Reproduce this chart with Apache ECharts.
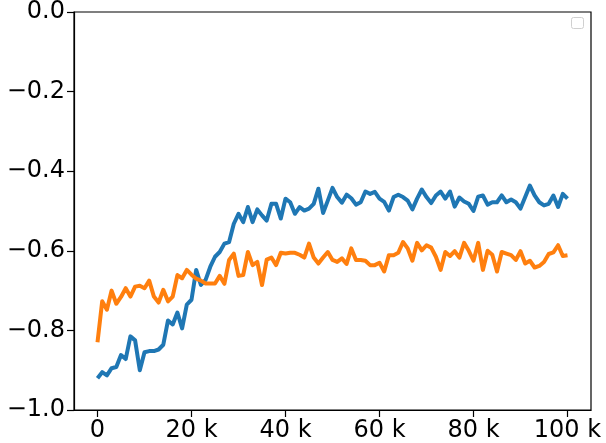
<!DOCTYPE html>
<html>
<head>
<meta charset="utf-8">
<script src="https://cdn.jsdelivr.net/npm/echarts@6/dist/echarts.min.js"></script>
<style>
  html, body { margin: 0; padding: 0; background: #fff; }
  #container { width: 606px; height: 443px; }
</style>
</head>
<body>
<div id="container"></div>
<script>
// 数据：每 1k 步一个点
var blueValues = [
  -0.920, -0.905, -0.913, -0.895, -0.892, -0.862, -0.872, -0.815, -0.825, -0.900,
  -0.855, -0.852, -0.852, -0.848, -0.836, -0.775, -0.785, -0.755, -0.795, -0.735,
  -0.723, -0.648, -0.686, -0.673, -0.640, -0.615, -0.603, -0.582, -0.578, -0.532,
  -0.507, -0.528, -0.490, -0.528, -0.496, -0.511, -0.524, -0.482, -0.482, -0.519,
  -0.469, -0.478, -0.507, -0.490, -0.499, -0.494, -0.482, -0.444, -0.505, -0.474,
  -0.442, -0.465, -0.479, -0.459, -0.468, -0.484, -0.478, -0.451, -0.457, -0.452,
  -0.469, -0.477, -0.499, -0.465, -0.459, -0.465, -0.474, -0.496, -0.469, -0.446,
  -0.465, -0.480, -0.461, -0.451, -0.469, -0.451, -0.489, -0.466, -0.476, -0.482,
  -0.500, -0.464, -0.461, -0.484, -0.478, -0.478, -0.461, -0.478, -0.471, -0.478,
  -0.494, -0.465, -0.436, -0.461, -0.478, -0.486, -0.482, -0.461, -0.490, -0.457,
  -0.469
];
var orangeValues = [
  -0.830, -0.727, -0.748, -0.700, -0.733, -0.716, -0.694, -0.715, -0.690, -0.688,
  -0.694, -0.675, -0.715, -0.730, -0.698, -0.727, -0.715, -0.661, -0.669, -0.648,
  -0.660, -0.670, -0.675, -0.682, -0.682, -0.682, -0.663, -0.683, -0.623, -0.607,
  -0.663, -0.661, -0.603, -0.636, -0.628, -0.686, -0.622, -0.617, -0.636, -0.605,
  -0.607, -0.605, -0.605, -0.610, -0.617, -0.582, -0.617, -0.632, -0.617, -0.603,
  -0.623, -0.628, -0.619, -0.633, -0.594, -0.623, -0.623, -0.625, -0.636, -0.636,
  -0.630, -0.652, -0.611, -0.611, -0.605, -0.578, -0.594, -0.625, -0.580, -0.599,
  -0.586, -0.592, -0.615, -0.648, -0.603, -0.613, -0.601, -0.617, -0.580, -0.600,
  -0.625, -0.580, -0.648, -0.600, -0.610, -0.652, -0.603, -0.607, -0.611, -0.623,
  -0.601, -0.632, -0.625, -0.642, -0.638, -0.628, -0.608, -0.604, -0.586, -0.613,
  -0.611
];
var stepSize = 1000;
var xTicks = [0, 20000, 40000, 60000, 80000, 100000];
var xTickLabels = ['0', '20 k', '40 k', '60 k', '80 k', '100 k'];
var yTicks = [-1.0, -0.8, -0.6, -0.4, -0.2, 0.0];
var yTickLabels = ['\u22121.0', '\u22120.8', '\u22120.6', '\u22120.4', '\u22120.2', '0.0'];

function toPairs(vals) {
  return vals.map(function (v, i) { return [i * stepSize, v]; });
}

var chart = echarts.init(document.getElementById('container'));
var font = 'DejaVu Sans';
var option = {
  backgroundColor: '#fff',
  animation: false,
  grid: {
    show: true,
    left: 74, right: 15, top: 10, bottom: 32,
    borderColor: '#000', borderWidth: 1.2,
    backgroundColor: 'rgba(0,0,0,0)'
  },
  xAxis: {
    type: 'value',
    min: -5000, max: 105000,
    splitLine: { show: false },
    axisLine: { show: true, onZero: false, lineStyle: { color: '#000', width: 1.2 } },
    axisTick: { show: true, length: 7, inside: false, customValues: xTicks, lineStyle: { color: '#000', width: 1.2 } },
    axisLabel: {
      customValues: xTicks,
      margin: 9,
      color: '#000', fontSize: 24, fontFamily: font,
      formatter: function (v) { return xTickLabels[xTicks.indexOf(v)]; }
    }
  },
  yAxis: {
    type: 'value',
    min: -1.0, max: 0.0, interval: 0.2,
    splitLine: { show: false },
    axisLine: { show: true, onZero: false, lineStyle: { color: '#000', width: 1.2 } },
    axisTick: { show: true, length: 7, inside: false, lineStyle: { color: '#000', width: 1.2 } },
    axisLabel: {
      margin: 9,
      color: '#000', fontSize: 24, fontFamily: font,
      formatter: function (v) {
        for (var i = 0; i < yTicks.length; i++) {
          if (Math.abs(yTicks[i] - v) < 1e-9) return yTickLabels[i];
        }
        return '';
      }
    }
  },
  graphic: [{
    type: 'rect',
    right: 22, top: 17,
    shape: { width: 12, height: 11, r: 2 },
    style: { fill: '#fff', stroke: '#d0d0d0', lineWidth: 1 }
  }],
  series: [{
    type: 'line',
    data: toPairs(blueValues),
    showSymbol: false,
    lineStyle: { color: '#1f77b4', width: 4, join: 'round' },
    itemStyle: { color: '#1f77b4' },
    z: 3
  }, {
    type: 'line',
    data: toPairs(orangeValues),
    showSymbol: false,
    lineStyle: { color: '#ff7f0e', width: 4, join: 'round' },
    itemStyle: { color: '#ff7f0e' },
    z: 4
  }]
};
chart.setOption(option);
</script>
</body>
</html>
